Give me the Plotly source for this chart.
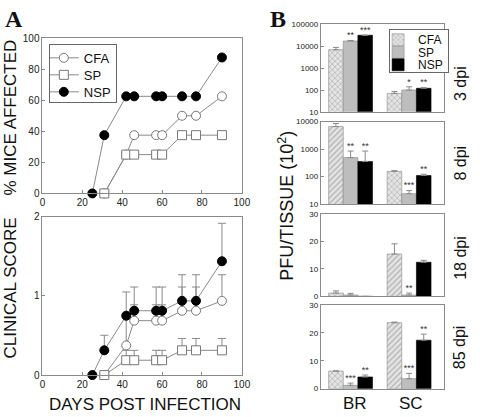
import plotly.graph_objects as go

W, H = 480, 417

# ---------------- Panel A data ----------------
days_nsp = [25, 31, 42, 46, 57, 60, 70, 77, 90]
days_cs = [31, 42, 46, 57, 60, 70, 77, 90]

pct_cfa = [0, 25, 37.5, 37.5, 37.5, 50, 50, 62.5]
pct_sp = [0, 25, 25, 25, 25, 37.5, 37.5, 37.5]
pct_nsp = [0, 37.5, 62.5, 62.5, 62.5, 62.5, 62.5, 62.5, 87.5]

score_cfa = [0, 0.375, 0.6875, 0.6875, 0.6875, 0.8125, 0.8125, 0.9375]
score_cfa_err = [0, 0.35, 0.2, 0.2, 0.2, 0.3, 0.3, 0.33]
score_sp = [0, 0.1875, 0.1875, 0.1875, 0.1875, 0.3125, 0.3125, 0.3125]
score_sp_err = [0, 0.125, 0.125, 0.125, 0.125, 0.15, 0.15, 0.15]
score_nsp = [0, 0.3125, 0.75, 0.8125, 0.8125, 0.8125, 0.9375, 0.9375, 1.4375]
score_nsp_err = [0, 0.19, 0.3, 0.3, 0.3, 0.3, 0.33, 0.33, 0.48]

# ---------------- Panel B data ----------------
tissues = ["BR", "SC"]
groups = ["CFA", "SP", "NSP"]
panel_labels = ["3 dpi", "8 dpi", "18 dpi", "85 dpi"]

b_vals = [
    {"CFA": [7000, 70], "SP": [17500, 100], "NSP": [32000, 120]},
    {"CFA": [6600, 155], "SP": [490, 24], "NSP": [355, 110]},
    {"CFA": [1.2, 15.4], "SP": [0.5, 0.5], "NSP": [0, 12.4]},
    {"CFA": [6.3, 23.7], "SP": [1.2, 3.6], "NSP": [4.2, 17.4]},
]
b_err = [
    {"CFA": [1900, 15], "SP": [1000, 40], "NSP": [0, 8]},
    {"CFA": [1900, 10], "SP": [360, 7], "NSP": [495, 12]},
    {"CFA": [0.8, 3.7], "SP": [0.6, 0.7], "NSP": [0, 0.7]},
    {"CFA": [0.1, 0.2], "SP": [0.8, 1.9], "NSP": [0.7, 2.2]},
]
b_stars = [
    {"CFA": ["", ""], "SP": ["**", "*"], "NSP": ["***", "**"]},
    {"CFA": ["", ""], "SP": ["**", "***"], "NSP": ["**", "**"]},
    {"CFA": ["", ""], "SP": ["", "**"], "NSP": ["", ""]},
    {"CFA": ["", ""], "SP": ["***", "***"], "NSP": ["**", "**"]},
]
cfa_patterns = [["x", "x"], ["/", "x"], ["x", "/"], ["x", "/"]]

FONT = "Liberation Sans, Arial, sans-serif"
LINE = "#8a8a8a"


def fx(p):
    return p / W


def fy(p):
    return 1 - p / H


fig = go.Figure()

# ---------------- Panel A traces ----------------
def add_series(x, y, err, ax, name, symbol, fill, show):
    kw = {}
    if err is not None:
        kw["error_y"] = dict(type="data", symmetric=False, array=err,
                             arrayminus=[0] * len(err), color=LINE,
                             thickness=1, width=4)
    fig.add_trace(go.Scatter(
        x=x, y=y, mode="lines+markers", name=name,
        xaxis="x" + ax, yaxis="y" + ax, cliponaxis=False,
        line=dict(color=LINE, width=1),
        marker=dict(symbol=symbol, size=9, color=fill,
                    line=dict(color="#777" if fill == "white" else "black", width=1)),
        showlegend=show, legend="legend", **kw))


add_series(days_cs, pct_cfa, None, "", "CFA", "circle", "white", True)
add_series(days_cs, pct_sp, None, "", "SP", "square", "white", True)
add_series(days_nsp, pct_nsp, None, "", "NSP", "circle", "black", True)
add_series(days_cs, score_cfa, score_cfa_err, "2", "CFA", "circle", "white", False)
add_series(days_cs, score_sp, score_sp_err, "2", "SP", "square", "white", False)
add_series(days_nsp, score_nsp, score_nsp_err, "2", "NSP", "circle", "black", False)

# ---------------- Panel B traces ----------------
offsets = {"CFA": -0.25, "SP": 0.0, "NSP": 0.25}
xpos = [0, 1]
for p in range(4):
    ax = str(p + 3)
    for g in groups:
        if g == "CFA":
            marker = dict(color="#e4e4e4", line=dict(color=LINE, width=0.6),
                          pattern=dict(shape=cfa_patterns[p], fgcolor="#7a7a7a",
                                       size=4, solidity=0.3, fillmode="overlay"))
        elif g == "SP":
            marker = dict(color="#bdbdbd", line=dict(color=LINE, width=0.6))
        else:
            marker = dict(color="black", line=dict(color="black", width=0.6))
        fig.add_trace(go.Bar(
            x=xpos, y=b_vals[p][g], name=g, offsetgroup=g,
            xaxis="x" + ax, yaxis="y" + ax, marker=marker,
            error_y=dict(type="data", symmetric=False, array=b_err[p][g],
                         arrayminus=[0, 0], color=LINE, thickness=1, width=3),
            showlegend=(p == 0), legend="legend2"))
    # significance stars
    for g in groups:
        sx, sy, st = [], [], []
        for i in range(2):
            if b_stars[p][g][i]:
                sx.append(xpos[i] + offsets[g])
                sy.append(b_vals[p][g][i] + b_err[p][g][i])
                st.append(b_stars[p][g][i])
        if sx:
            fig.add_trace(go.Scatter(
                x=sx, y=sy, text=st, mode="text", textposition="top center",
                textfont=dict(size=9, color="#333", family=FONT),
                xaxis="x" + ax, yaxis="y" + ax, showlegend=False,
                cliponaxis=False, hoverinfo="skip"))

# ---------------- Layout ----------------
axis_common = dict(showline=True, mirror=True, linecolor=LINE, linewidth=1,
                   showgrid=False, zeroline=False, ticks="inside", ticklen=3,
                   tickcolor=LINE, tickfont=dict(size=10, color="#222", family=FONT))

layout = dict(
    width=W, height=H, margin=dict(l=0, r=0, t=0, b=0),
    paper_bgcolor="white", plot_bgcolor="white",
    font=dict(family=FONT, color="#111"),
    barmode="group", bargap=0.25, bargroupgap=0,
    xaxis=dict(domain=[fx(40.5), fx(245)], range=[0, 100], dtick=20,
               anchor="y", **axis_common),
    yaxis=dict(domain=[fy(193), fy(33)], range=[0, 100], dtick=20,
               anchor="x", **axis_common),
    xaxis2=dict(domain=[fx(40.5), fx(245)], range=[0, 100], dtick=20,
                anchor="y2", **axis_common),
    yaxis2=dict(domain=[fy(380), fy(217)], range=[0, 2], dtick=1,
                anchor="x2", **axis_common),
    legend=dict(x=fx(47), y=fy(39), xanchor="left", yanchor="top",
                bordercolor="#666", borderwidth=1, bgcolor="white",
                font=dict(size=13, family=FONT, color="#111"),
                tracegroupgap=0, itemwidth=30, indentation=-6),
    legend2=dict(x=fx(396), y=fy(24), xanchor="left", yanchor="top",
                 bordercolor="#666", borderwidth=1, bgcolor="white",
                 font=dict(size=12, family=FONT, color="#111"),
                 tracegroupgap=0, itemwidth=30, indentation=-12),
)

b_rows = [(19, 109), (119, 204), (214, 299), (308, 394)]
b_ticks = [
    [10, 100, 1000, 10000, 100000],
    [10, 100, 1000, 10000],
    [0, 10, 20, 30],
    [0, 10, 20, 30],
]
b_common = dict(axis_common)
b_common["tickfont"] = dict(size=8, color="#222", family=FONT)
for p in range(4):
    top, bot = b_rows[p]
    ax = str(p + 3)
    layout["xaxis" + ax] = dict(domain=[fx(326), fx(452.7)], range=[-0.508, 1.603],
                                anchor="y" + ax, showticklabels=False,
                                **{k: v for k, v in b_common.items()
                                   if k not in ("ticks", "ticklen", "tickcolor", "tickfont")})
    yd = dict(domain=[fy(bot), fy(top)], anchor="x" + ax,
              tickvals=b_ticks[p], ticktext=[str(t) for t in b_ticks[p]], **b_common)
    if p < 2:
        yd.update(type="log", range=[1, 5] if p == 0 else [1, 4])
    else:
        yd.update(range=[0, 30])
    layout["yaxis" + ax] = yd

fig.update_layout(**layout)

# ---------------- Text labels ----------------
ann = []
ann.append(dict(text="<b>A</b>", x=fx(11), y=fy(13), font=dict(size=24, family="Liberation Serif, Times New Roman, serif", color="#111")))
ann.append(dict(text="<b>B</b>", x=fx(282), y=fy(13), font=dict(size=24, family="Liberation Serif, Times New Roman, serif", color="#111")))
ann.append(dict(text="% MICE AFFECTED", x=fx(8), y=fy(115), textangle=-90, font=dict(size=17)))
ann.append(dict(text="CLINICAL SCORE", x=fx(8), y=fy(290), textangle=-90, font=dict(size=17)))
ann.append(dict(text="DAYS POST INFECTION", x=fx(146), y=fy(410), font=dict(size=17)))
ann.append(dict(text="PFU/TISSUE (10<sup>2</sup>)", x=fx(290), y=fy(206), textangle=-90, font=dict(size=18)))
dpi_y = [80, 162, 259, 351]
for lab, yy in zip(panel_labels, dpi_y):
    ann.append(dict(text=lab, x=fx(469), y=fy(yy), textangle=-90, font=dict(size=16)))
ann.append(dict(text=tissues[0], x=fx(361), y=fy(409), font=dict(size=17)))
ann.append(dict(text=tissues[1], x=fx(418), y=fy(409), font=dict(size=17)))
for a in ann:
    a.update(xref="paper", yref="paper", showarrow=False, xanchor="center", yanchor="middle")
    a.setdefault("font", {})
    a["font"].setdefault("family", FONT)
    a["font"].setdefault("color", "#111")
fig.update_layout(annotations=ann)

# tighten legend row spacing (rendering tweak only)
post = r"""
(function(){
  var gd = document.getElementById('{plot_id}');
  document.body.style.margin = '0';
  document.body.style.overflow = 'hidden';
  function squeeze(cls, spacing, shift, bgH){
    var lg = gd.querySelector('g.' + cls);
    if (!lg) return;
    ['g.groups', 'g.traces'].forEach(function(sel){
      var els = lg.querySelectorAll(sel);
      if (els.length < 2) return;
      var xs = [], ys = [];
      els.forEach(function(e){
        var tr = e.getAttribute('transform') || '';
        var m = tr.match(/translate\(\s*([-\d.e]+)[ ,]+([-\d.e]+)\s*\)/);
        xs.push(m ? parseFloat(m[1]) : 0);
        ys.push(m ? parseFloat(m[2]) : 0);
      });
      if (Math.abs(ys[ys.length - 1] - ys[0]) < 1) return;
      var y0 = ys[0];
      els.forEach(function(e, i){
        e.setAttribute('transform', 'translate(' + xs[i] + ',' + (y0 - shift + i * spacing) + ')');
      });
    });
    var bg = lg.querySelector('rect.bg');
    if (bg) bg.setAttribute('height', bgH);
  }
  squeeze('legend', 17, 2, 58);
  squeeze('legend2', 12.5, 5, 43);
})();
"""

fig.write_html("out.html", config={"displayModeBar": False}, post_script=post)
